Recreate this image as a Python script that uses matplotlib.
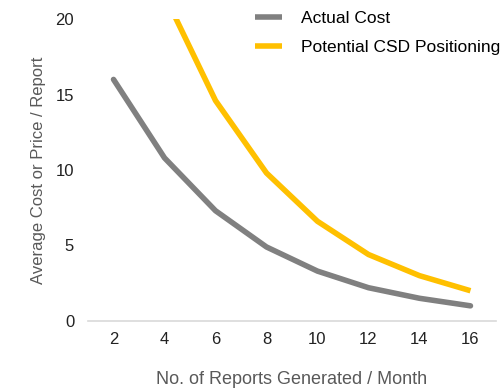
import numpy as np
import matplotlib
matplotlib.use("Agg")
import matplotlib.pyplot as plt

plt.rcParams['font.family'] = ['Liberation Sans Narrow', 'Liberation Sans', 'DejaVu Sans']

# ___________ data _______________
reports = [2, 4, 6, 8, 10, 12, 14, 16]
actual_cost = [16.0, 10.8, 7.3, 4.9, 3.3, 2.2, 1.5, 1.0]
potential_csd = [32.0, 21.6, 14.6, 9.8, 6.6, 4.4, 3.0, 2.0]

fig = plt.figure(figsize=(5.03, 3.89), dpi=100)
ax = fig.add_axes([0.175, 0.175, 0.811, 0.776])

x = np.arange(len(reports))
ax.plot(x, actual_cost, color='#808080', lw=4, solid_capstyle='round', label='Actual Cost')
ax.plot(x, potential_csd, color='#FFC000', lw=4, solid_capstyle='butt', label='Potential CSD Positioning')

ax.set_xlim(-0.5, len(reports) - 0.5)
ax.set_ylim(0, 20)
ax.set_xticks(x)
ax.set_xticklabels([str(r) for r in reports])
ax.set_yticks([0, 5, 10, 15, 20])

for s in ['top', 'right', 'left']:
    ax.spines[s].set_visible(False)
ax.spines['bottom'].set_color('#D9D9D9')
ax.spines['bottom'].set_linewidth(1.2)
ax.tick_params(length=0, labelsize=12, colors='#222222')
ax.tick_params(axis='x', pad=8)
ax.tick_params(axis='y', pad=10)

ax.set_xlabel('No. of Reports Generated / Month', fontsize=13, color='#595959', labelpad=17)
ax.set_ylabel('Average Cost or Price / Report', fontsize=12, color='#595959', labelpad=7)

leg = ax.legend(loc='upper right', bbox_to_anchor=(1.05, 1.078), frameon=False, fontsize=12.5,
                handlelength=1.6, handletextpad=1.1, labelspacing=0.8)
for h in leg.get_lines():
    h.set_solid_capstyle('butt')

fig.savefig('out.png', dpi=100)
